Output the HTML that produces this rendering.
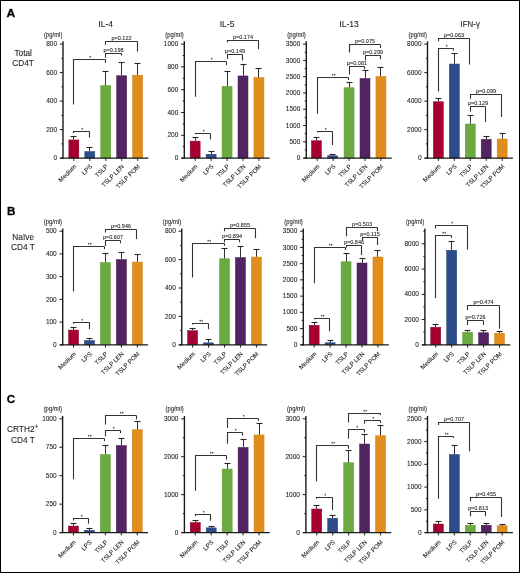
<!DOCTYPE html>
<html><head><meta charset="utf-8"><style>
html,body{margin:0;padding:0;background:#fff;}
body{width:520px;height:573px;overflow:hidden;position:relative;}
.frame{position:absolute;left:0;top:0;width:520px;height:573px;box-sizing:border-box;border:1px solid #000;border-left-width:1.2px;border-bottom-width:1.2px;}
svg{position:absolute;left:0;top:0;will-change:transform;}
text{font-family:"Liberation Sans",sans-serif;fill:#222;stroke:#222;stroke-width:0.08px;}
</style></head><body>
<svg width="520" height="573" viewBox="0 0 520 573">
<g>
<rect x="68.85" y="139.95" width="10" height="18.15" fill="#A5002F" stroke="#8E0026" stroke-width="0.5"/>
<path d="M73.5 139.7V136.5" stroke="#303030" stroke-width="1" fill="none"/>
<path d="M70.5 136.5H76.5" stroke="#262626" stroke-width="1.1" fill="none"/>
<rect x="84.8" y="151.55" width="10" height="6.55" fill="#2C4C8A" stroke="#223E76" stroke-width="0.5"/>
<path d="M89.5 151.3V147.5" stroke="#303030" stroke-width="1" fill="none"/>
<path d="M86.5 147.5H92.5" stroke="#262626" stroke-width="1.1" fill="none"/>
<rect x="100.75" y="85.65" width="10" height="72.45" fill="#6AAA40" stroke="#5E9A37" stroke-width="0.5"/>
<path d="M105.5 85.4V71.5" stroke="#303030" stroke-width="1" fill="none"/>
<path d="M102.5 71.5H108.5" stroke="#262626" stroke-width="1.1" fill="none"/>
<rect x="116.7" y="75.75" width="10" height="82.35" fill="#532462" stroke="#43184F" stroke-width="0.5"/>
<path d="M121.5 75.5V62.5" stroke="#303030" stroke-width="1" fill="none"/>
<path d="M118.5 62.5H124.5" stroke="#262626" stroke-width="1.1" fill="none"/>
<rect x="132.65" y="75.25" width="10" height="82.85" fill="#E08D1B" stroke="#CF7F12" stroke-width="0.5"/>
<path d="M137.5 75V63.5" stroke="#303030" stroke-width="1" fill="none"/>
<path d="M134.5 63.5H140.5" stroke="#262626" stroke-width="1.1" fill="none"/>
<path d="M63 41.3V158.7" stroke="#1a1a1a" stroke-width="1.4" fill="none"/>
<path d="M60.2 158.1H148.4" stroke="#1a1a1a" stroke-width="1.3" fill="none"/>
<path d="M73.85 158.1V160.9" stroke="#1a1a1a" stroke-width="1" fill="none"/>
<path d="M89.8 158.1V160.9" stroke="#1a1a1a" stroke-width="1" fill="none"/>
<path d="M105.75 158.1V160.9" stroke="#1a1a1a" stroke-width="1" fill="none"/>
<path d="M121.7 158.1V160.9" stroke="#1a1a1a" stroke-width="1" fill="none"/>
<path d="M137.65 158.1V160.9" stroke="#1a1a1a" stroke-width="1" fill="none"/>
<path d="M59.8 158.1H63" stroke="#1a1a1a" stroke-width="1" fill="none"/>
<text transform="translate(57 160.25) scale(1 1.080)" font-size="6.5" text-anchor="end">0</text>
<path d="M61.4 143.85H63" stroke="#1a1a1a" stroke-width="1" fill="none"/>
<path d="M59.8 129.6H63" stroke="#1a1a1a" stroke-width="1" fill="none"/>
<text transform="translate(57 131.75) scale(1 1.080)" font-size="6.5" text-anchor="end">200</text>
<path d="M61.4 115.35H63" stroke="#1a1a1a" stroke-width="1" fill="none"/>
<path d="M59.8 101.1H63" stroke="#1a1a1a" stroke-width="1" fill="none"/>
<text transform="translate(57 103.25) scale(1 1.080)" font-size="6.5" text-anchor="end">400</text>
<path d="M61.4 86.85H63" stroke="#1a1a1a" stroke-width="1" fill="none"/>
<path d="M59.8 72.6H63" stroke="#1a1a1a" stroke-width="1" fill="none"/>
<text transform="translate(57 74.75) scale(1 1.080)" font-size="6.5" text-anchor="end">600</text>
<path d="M61.4 58.35H63" stroke="#1a1a1a" stroke-width="1" fill="none"/>
<path d="M59.8 44.1H63" stroke="#1a1a1a" stroke-width="1" fill="none"/>
<text transform="translate(57 46.25) scale(1 1.080)" font-size="6.5" text-anchor="end">800</text>
<text transform="translate(76.65 166.9) rotate(-45)" font-size="6.2" text-anchor="end">Medium</text>
<text transform="translate(92.6 166.9) rotate(-45)" font-size="6.2" text-anchor="end">LPS</text>
<text transform="translate(108.55 166.9) rotate(-45)" font-size="6.2" text-anchor="end">TSLP</text>
<text transform="translate(124.5 166.9) rotate(-45)" font-size="6.2" text-anchor="end">TSLP LEN</text>
<text transform="translate(140.45 166.9) rotate(-45)" font-size="6.2" text-anchor="end">TSLP POM</text>
<path d="M73.5 133V131.5H89.5" stroke="#333333" stroke-width="1.1" fill="none"/>
<path d="M89.5 131.5V137.5" stroke="#333333" stroke-width="1.1" fill="none"/>
<rect x="81.55" y="127.9" width="1.3" height="1.6" fill="#4a4a4a"/>
<path d="M73.5 104.6V59.5H105.5" stroke="#333333" stroke-width="1.1" fill="none"/>
<path d="M105.5 59.5V62.9" stroke="#333333" stroke-width="1.1" fill="none"/>
<rect x="89.55" y="55.9" width="1.3" height="1.6" fill="#4a4a4a"/>
<path d="M105.5 57.7V53.5H121.5" stroke="#333333" stroke-width="1.1" fill="none"/>
<path d="M121.5 53.5V55.6" stroke="#333333" stroke-width="1.1" fill="none"/>
<text transform="translate(113.5 51.9)" font-size="5.5" text-anchor="middle">p=0.198</text>
<path d="M105.5 44.7V41.5H137.5" stroke="#333333" stroke-width="1.1" fill="none"/>
<path d="M137.5 41.5V51.6" stroke="#333333" stroke-width="1.1" fill="none"/>
<text transform="translate(121.5 39.9)" font-size="5.5" text-anchor="middle">p=0.122</text>
<text transform="translate(53.2 36.7) scale(1 1.200)" font-size="5.9" text-anchor="middle">(pg/ml)</text>
<text transform="translate(105.75 26.9)" font-size="8.6" text-anchor="middle">IL-4</text>
</g>
<g>
<rect x="190.15" y="141.15" width="10" height="16.95" fill="#A5002F" stroke="#8E0026" stroke-width="0.5"/>
<path d="M195.5 140.9V137.5" stroke="#303030" stroke-width="1" fill="none"/>
<path d="M192.5 137.5H198.5" stroke="#262626" stroke-width="1.1" fill="none"/>
<rect x="206.1" y="154.25" width="10" height="3.85" fill="#2C4C8A" stroke="#223E76" stroke-width="0.5"/>
<path d="M211.5 154V151.5" stroke="#303030" stroke-width="1" fill="none"/>
<path d="M208.5 151.5H214.5" stroke="#262626" stroke-width="1.1" fill="none"/>
<rect x="222.05" y="86.35" width="10" height="71.75" fill="#6AAA40" stroke="#5E9A37" stroke-width="0.5"/>
<path d="M227.5 86.1V71.5" stroke="#303030" stroke-width="1" fill="none"/>
<path d="M224.5 71.5H230.5" stroke="#262626" stroke-width="1.1" fill="none"/>
<rect x="238" y="75.95" width="10" height="82.15" fill="#532462" stroke="#43184F" stroke-width="0.5"/>
<path d="M243.5 75.7V64.5" stroke="#303030" stroke-width="1" fill="none"/>
<path d="M240.5 64.5H246.5" stroke="#262626" stroke-width="1.1" fill="none"/>
<rect x="253.95" y="77.55" width="10" height="80.55" fill="#E08D1B" stroke="#CF7F12" stroke-width="0.5"/>
<path d="M258.5 77.3V68.5" stroke="#303030" stroke-width="1" fill="none"/>
<path d="M255.5 68.5H261.5" stroke="#262626" stroke-width="1.1" fill="none"/>
<path d="M184.3 41.3V158.7" stroke="#1a1a1a" stroke-width="1.4" fill="none"/>
<path d="M181.5 158.1H269.7" stroke="#1a1a1a" stroke-width="1.3" fill="none"/>
<path d="M195.15 158.1V160.9" stroke="#1a1a1a" stroke-width="1" fill="none"/>
<path d="M211.1 158.1V160.9" stroke="#1a1a1a" stroke-width="1" fill="none"/>
<path d="M227.05 158.1V160.9" stroke="#1a1a1a" stroke-width="1" fill="none"/>
<path d="M243 158.1V160.9" stroke="#1a1a1a" stroke-width="1" fill="none"/>
<path d="M258.95 158.1V160.9" stroke="#1a1a1a" stroke-width="1" fill="none"/>
<path d="M181.1 158.1H184.3" stroke="#1a1a1a" stroke-width="1" fill="none"/>
<text transform="translate(178.3 160.25) scale(1 1.080)" font-size="6.5" text-anchor="end">0</text>
<path d="M182.7 146.7H184.3" stroke="#1a1a1a" stroke-width="1" fill="none"/>
<path d="M181.1 135.3H184.3" stroke="#1a1a1a" stroke-width="1" fill="none"/>
<text transform="translate(178.3 137.45) scale(1 1.080)" font-size="6.5" text-anchor="end">200</text>
<path d="M182.7 123.9H184.3" stroke="#1a1a1a" stroke-width="1" fill="none"/>
<path d="M181.1 112.5H184.3" stroke="#1a1a1a" stroke-width="1" fill="none"/>
<text transform="translate(178.3 114.65) scale(1 1.080)" font-size="6.5" text-anchor="end">400</text>
<path d="M182.7 101.1H184.3" stroke="#1a1a1a" stroke-width="1" fill="none"/>
<path d="M181.1 89.7H184.3" stroke="#1a1a1a" stroke-width="1" fill="none"/>
<text transform="translate(178.3 91.85) scale(1 1.080)" font-size="6.5" text-anchor="end">600</text>
<path d="M182.7 78.3H184.3" stroke="#1a1a1a" stroke-width="1" fill="none"/>
<path d="M181.1 66.9H184.3" stroke="#1a1a1a" stroke-width="1" fill="none"/>
<text transform="translate(178.3 69.05) scale(1 1.080)" font-size="6.5" text-anchor="end">800</text>
<path d="M182.7 55.5H184.3" stroke="#1a1a1a" stroke-width="1" fill="none"/>
<path d="M181.1 44.1H184.3" stroke="#1a1a1a" stroke-width="1" fill="none"/>
<text transform="translate(178.3 46.25) scale(1 1.080)" font-size="6.5" text-anchor="end">1000</text>
<text transform="translate(197.95 166.9) rotate(-45)" font-size="6.2" text-anchor="end">Medium</text>
<text transform="translate(213.9 166.9) rotate(-45)" font-size="6.2" text-anchor="end">LPS</text>
<text transform="translate(229.85 166.9) rotate(-45)" font-size="6.2" text-anchor="end">TSLP</text>
<text transform="translate(245.8 166.9) rotate(-45)" font-size="6.2" text-anchor="end">TSLP LEN</text>
<text transform="translate(261.75 166.9) rotate(-45)" font-size="6.2" text-anchor="end">TSLP POM</text>
<path d="M195.5 134.3V133.5H210.5" stroke="#333333" stroke-width="1.1" fill="none"/>
<path d="M210.5 133.5V139.4" stroke="#333333" stroke-width="1.1" fill="none"/>
<rect x="203.05" y="129.9" width="1.3" height="1.6" fill="#4a4a4a"/>
<path d="M195.5 96.7V61.5H226.5" stroke="#333333" stroke-width="1.1" fill="none"/>
<path d="M226.5 61.5V65.2" stroke="#333333" stroke-width="1.1" fill="none"/>
<rect x="211.05" y="57.9" width="1.3" height="1.6" fill="#4a4a4a"/>
<path d="M227.5 59.1V54.5H242.5" stroke="#333333" stroke-width="1.1" fill="none"/>
<path d="M242.5 54.5V60.5" stroke="#333333" stroke-width="1.1" fill="none"/>
<text transform="translate(235 52.9)" font-size="5.5" text-anchor="middle">p=0.149</text>
<path d="M227.5 42.3V40.5H258.5" stroke="#333333" stroke-width="1.1" fill="none"/>
<path d="M258.5 40.5V49.2" stroke="#333333" stroke-width="1.1" fill="none"/>
<text transform="translate(243 38.9)" font-size="5.5" text-anchor="middle">p=0.174</text>
<text transform="translate(174.5 36.7) scale(1 1.200)" font-size="5.9" text-anchor="middle">(pg/ml)</text>
<text transform="translate(227.05 26.9)" font-size="8.6" text-anchor="middle">IL-5</text>
</g>
<g>
<rect x="311.45" y="140.75" width="10" height="17.35" fill="#A5002F" stroke="#8E0026" stroke-width="0.5"/>
<path d="M316.5 140.5V137.5" stroke="#303030" stroke-width="1" fill="none"/>
<path d="M313.5 137.5H319.5" stroke="#262626" stroke-width="1.1" fill="none"/>
<rect x="327.6" y="155.75" width="10" height="2.35" fill="#2C4C8A" stroke="#223E76" stroke-width="0.5"/>
<path d="M332.5 155.5V154.5" stroke="#303030" stroke-width="1" fill="none"/>
<path d="M329.5 154.5H335.5" stroke="#262626" stroke-width="1.1" fill="none"/>
<rect x="344.05" y="87.75" width="10" height="70.35" fill="#6AAA40" stroke="#5E9A37" stroke-width="0.5"/>
<path d="M349.5 87.5V82.5" stroke="#303030" stroke-width="1" fill="none"/>
<path d="M346.5 82.5H352.5" stroke="#262626" stroke-width="1.1" fill="none"/>
<rect x="360" y="78.5" width="10" height="79.6" fill="#532462" stroke="#43184F" stroke-width="0.5"/>
<path d="M365.5 78.25V70.5" stroke="#303030" stroke-width="1" fill="none"/>
<path d="M362.5 70.5H368.5" stroke="#262626" stroke-width="1.1" fill="none"/>
<rect x="375.95" y="76.5" width="10" height="81.6" fill="#E08D1B" stroke="#CF7F12" stroke-width="0.5"/>
<path d="M380.5 76.25V67.5" stroke="#303030" stroke-width="1" fill="none"/>
<path d="M377.5 67.5H383.5" stroke="#262626" stroke-width="1.1" fill="none"/>
<path d="M306.3 41.3V158.7" stroke="#1a1a1a" stroke-width="1.4" fill="none"/>
<path d="M303.5 158.1H391.7" stroke="#1a1a1a" stroke-width="1.3" fill="none"/>
<path d="M317.15 158.1V160.9" stroke="#1a1a1a" stroke-width="1" fill="none"/>
<path d="M333.1 158.1V160.9" stroke="#1a1a1a" stroke-width="1" fill="none"/>
<path d="M349.05 158.1V160.9" stroke="#1a1a1a" stroke-width="1" fill="none"/>
<path d="M365 158.1V160.9" stroke="#1a1a1a" stroke-width="1" fill="none"/>
<path d="M380.95 158.1V160.9" stroke="#1a1a1a" stroke-width="1" fill="none"/>
<path d="M303.1 158.1H306.3" stroke="#1a1a1a" stroke-width="1" fill="none"/>
<text transform="translate(300.3 160.25) scale(1 1.080)" font-size="6.5" text-anchor="end">0</text>
<path d="M304.7 149.96H306.3" stroke="#1a1a1a" stroke-width="1" fill="none"/>
<path d="M303.1 141.81H306.3" stroke="#1a1a1a" stroke-width="1" fill="none"/>
<text transform="translate(300.3 143.96) scale(1 1.080)" font-size="6.5" text-anchor="end">500</text>
<path d="M304.7 133.67H306.3" stroke="#1a1a1a" stroke-width="1" fill="none"/>
<path d="M303.1 125.53H306.3" stroke="#1a1a1a" stroke-width="1" fill="none"/>
<text transform="translate(300.3 127.68) scale(1 1.080)" font-size="6.5" text-anchor="end">1000</text>
<path d="M304.7 117.39H306.3" stroke="#1a1a1a" stroke-width="1" fill="none"/>
<path d="M303.1 109.24H306.3" stroke="#1a1a1a" stroke-width="1" fill="none"/>
<text transform="translate(300.3 111.39) scale(1 1.080)" font-size="6.5" text-anchor="end">1500</text>
<path d="M304.7 101.1H306.3" stroke="#1a1a1a" stroke-width="1" fill="none"/>
<path d="M303.1 92.96H306.3" stroke="#1a1a1a" stroke-width="1" fill="none"/>
<text transform="translate(300.3 95.11) scale(1 1.080)" font-size="6.5" text-anchor="end">2000</text>
<path d="M304.7 84.81H306.3" stroke="#1a1a1a" stroke-width="1" fill="none"/>
<path d="M303.1 76.67H306.3" stroke="#1a1a1a" stroke-width="1" fill="none"/>
<text transform="translate(300.3 78.82) scale(1 1.080)" font-size="6.5" text-anchor="end">2500</text>
<path d="M304.7 68.53H306.3" stroke="#1a1a1a" stroke-width="1" fill="none"/>
<path d="M303.1 60.39H306.3" stroke="#1a1a1a" stroke-width="1" fill="none"/>
<text transform="translate(300.3 62.54) scale(1 1.080)" font-size="6.5" text-anchor="end">3000</text>
<path d="M304.7 52.24H306.3" stroke="#1a1a1a" stroke-width="1" fill="none"/>
<path d="M303.1 44.1H306.3" stroke="#1a1a1a" stroke-width="1" fill="none"/>
<text transform="translate(300.3 46.25) scale(1 1.080)" font-size="6.5" text-anchor="end">3500</text>
<text transform="translate(319.95 166.9) rotate(-45)" font-size="6.2" text-anchor="end">Medium</text>
<text transform="translate(335.9 166.9) rotate(-45)" font-size="6.2" text-anchor="end">LPS</text>
<text transform="translate(351.85 166.9) rotate(-45)" font-size="6.2" text-anchor="end">TSLP</text>
<text transform="translate(367.8 166.9) rotate(-45)" font-size="6.2" text-anchor="end">TSLP LEN</text>
<text transform="translate(383.75 166.9) rotate(-45)" font-size="6.2" text-anchor="end">TSLP POM</text>
<path d="M317.5 132.5V131.5H332.5" stroke="#333333" stroke-width="1.1" fill="none"/>
<path d="M332.5 131.5V145" stroke="#333333" stroke-width="1.1" fill="none"/>
<rect x="325.05" y="127.9" width="1.3" height="1.6" fill="#4a4a4a"/>
<path d="M317.5 113.75V77.5H348.5" stroke="#333333" stroke-width="1.1" fill="none"/>
<path d="M348.5 77.5V80" stroke="#333333" stroke-width="1.1" fill="none"/>
<rect x="332.05" y="73.9" width="1.3" height="1.6" fill="#4a4a4a"/>
<rect x="334.05" y="73.9" width="1.3" height="1.6" fill="#4a4a4a"/>
<path d="M349.5 74.5V66.5H364.5" stroke="#333333" stroke-width="1.1" fill="none"/>
<path d="M364.5 66.5V69.25" stroke="#333333" stroke-width="1.1" fill="none"/>
<text transform="translate(357 64.9)" font-size="5.5" text-anchor="middle">p=0.081</text>
<path d="M365.5 60.5V55.5H380.5" stroke="#333333" stroke-width="1.1" fill="none"/>
<path d="M380.5 55.5V59.25" stroke="#333333" stroke-width="1.1" fill="none"/>
<text transform="translate(373 53.9)" font-size="5.5" text-anchor="middle">p=0.299</text>
<path d="M349.5 52.5V44.5H380.5" stroke="#333333" stroke-width="1.1" fill="none"/>
<path d="M380.5 44.5V48" stroke="#333333" stroke-width="1.1" fill="none"/>
<text transform="translate(365 42.9)" font-size="5.5" text-anchor="middle">p=0.075</text>
<text transform="translate(296.5 36.7) scale(1 1.200)" font-size="5.9" text-anchor="middle">(pg/ml)</text>
<text transform="translate(349.05 26.9)" font-size="8.6" text-anchor="middle">IL-13</text>
</g>
<g>
<rect x="433.35" y="101.75" width="10" height="56.35" fill="#A5002F" stroke="#8E0026" stroke-width="0.5"/>
<path d="M438.5 101.5V98.5" stroke="#303030" stroke-width="1" fill="none"/>
<path d="M435.5 98.5H441.5" stroke="#262626" stroke-width="1.1" fill="none"/>
<rect x="449.3" y="64" width="10" height="94.1" fill="#2C4C8A" stroke="#223E76" stroke-width="0.5"/>
<path d="M454.5 63.75V53.5" stroke="#303030" stroke-width="1" fill="none"/>
<path d="M451.5 53.5H457.5" stroke="#262626" stroke-width="1.1" fill="none"/>
<rect x="465.25" y="124" width="10" height="34.1" fill="#6AAA40" stroke="#5E9A37" stroke-width="0.5"/>
<path d="M470.5 123.75V115.5" stroke="#303030" stroke-width="1" fill="none"/>
<path d="M467.5 115.5H473.5" stroke="#262626" stroke-width="1.1" fill="none"/>
<rect x="481.2" y="139.35" width="10" height="18.75" fill="#532462" stroke="#43184F" stroke-width="0.5"/>
<path d="M486.5 139.1V136.5" stroke="#303030" stroke-width="1" fill="none"/>
<path d="M483.5 136.5H489.5" stroke="#262626" stroke-width="1.1" fill="none"/>
<rect x="497.15" y="139" width="10" height="19.1" fill="#E08D1B" stroke="#CF7F12" stroke-width="0.5"/>
<path d="M502.5 138.75V133.5" stroke="#303030" stroke-width="1" fill="none"/>
<path d="M499.5 133.5H505.5" stroke="#262626" stroke-width="1.1" fill="none"/>
<path d="M427.5 41.3V158.7" stroke="#1a1a1a" stroke-width="1.4" fill="none"/>
<path d="M424.7 158.1H512.9" stroke="#1a1a1a" stroke-width="1.3" fill="none"/>
<path d="M438.35 158.1V160.9" stroke="#1a1a1a" stroke-width="1" fill="none"/>
<path d="M454.3 158.1V160.9" stroke="#1a1a1a" stroke-width="1" fill="none"/>
<path d="M470.25 158.1V160.9" stroke="#1a1a1a" stroke-width="1" fill="none"/>
<path d="M486.2 158.1V160.9" stroke="#1a1a1a" stroke-width="1" fill="none"/>
<path d="M502.15 158.1V160.9" stroke="#1a1a1a" stroke-width="1" fill="none"/>
<path d="M424.3 158.1H427.5" stroke="#1a1a1a" stroke-width="1" fill="none"/>
<text transform="translate(421.5 160.25) scale(1 1.080)" font-size="6.5" text-anchor="end">0</text>
<path d="M425.9 143.85H427.5" stroke="#1a1a1a" stroke-width="1" fill="none"/>
<path d="M424.3 129.6H427.5" stroke="#1a1a1a" stroke-width="1" fill="none"/>
<text transform="translate(421.5 131.75) scale(1 1.080)" font-size="6.5" text-anchor="end">2000</text>
<path d="M425.9 115.35H427.5" stroke="#1a1a1a" stroke-width="1" fill="none"/>
<path d="M424.3 101.1H427.5" stroke="#1a1a1a" stroke-width="1" fill="none"/>
<text transform="translate(421.5 103.25) scale(1 1.080)" font-size="6.5" text-anchor="end">4000</text>
<path d="M425.9 86.85H427.5" stroke="#1a1a1a" stroke-width="1" fill="none"/>
<path d="M424.3 72.6H427.5" stroke="#1a1a1a" stroke-width="1" fill="none"/>
<text transform="translate(421.5 74.75) scale(1 1.080)" font-size="6.5" text-anchor="end">6000</text>
<path d="M425.9 58.35H427.5" stroke="#1a1a1a" stroke-width="1" fill="none"/>
<path d="M424.3 44.1H427.5" stroke="#1a1a1a" stroke-width="1" fill="none"/>
<text transform="translate(421.5 46.25) scale(1 1.080)" font-size="6.5" text-anchor="end">8000</text>
<text transform="translate(441.15 166.9) rotate(-45)" font-size="6.2" text-anchor="end">Medium</text>
<text transform="translate(457.1 166.9) rotate(-45)" font-size="6.2" text-anchor="end">LPS</text>
<text transform="translate(473.05 166.9) rotate(-45)" font-size="6.2" text-anchor="end">TSLP</text>
<text transform="translate(489 166.9) rotate(-45)" font-size="6.2" text-anchor="end">TSLP LEN</text>
<text transform="translate(504.95 166.9) rotate(-45)" font-size="6.2" text-anchor="end">TSLP POM</text>
<path d="M438.5 91.5V48.5H453.5" stroke="#333333" stroke-width="1.1" fill="none"/>
<path d="M453.5 48.5V50.6" stroke="#333333" stroke-width="1.1" fill="none"/>
<rect x="446.05" y="44.9" width="1.3" height="1.6" fill="#4a4a4a"/>
<path d="M438.5 41.2V38.5H469.5" stroke="#333333" stroke-width="1.1" fill="none"/>
<path d="M469.5 38.5V64.5" stroke="#333333" stroke-width="1.1" fill="none"/>
<text transform="translate(454 36.9)" font-size="5.5" text-anchor="middle">p=0.063</text>
<path d="M470.5 111.75V106.5H485.5" stroke="#333333" stroke-width="1.1" fill="none"/>
<path d="M485.5 106.5V122" stroke="#333333" stroke-width="1.1" fill="none"/>
<text transform="translate(478 104.9)" font-size="5.5" text-anchor="middle">p=0.129</text>
<path d="M470.5 98.75V94.5H501.5" stroke="#333333" stroke-width="1.1" fill="none"/>
<path d="M501.5 94.5V117" stroke="#333333" stroke-width="1.1" fill="none"/>
<text transform="translate(486 92.9)" font-size="5.5" text-anchor="middle">p=0.099</text>
<text transform="translate(417.7 36.7) scale(1 1.200)" font-size="5.9" text-anchor="middle">(pg/ml)</text>
<text transform="translate(470.25 26.9) scale(0.92 1.000)" font-size="8.6" text-anchor="middle">IFN-γ</text>
</g>
<g>
<rect x="68.55" y="330.05" width="10" height="14.75" fill="#A5002F" stroke="#8E0026" stroke-width="0.5"/>
<path d="M73.5 329.8V327.5" stroke="#303030" stroke-width="1" fill="none"/>
<path d="M70.5 327.5H76.5" stroke="#262626" stroke-width="1.1" fill="none"/>
<rect x="84.5" y="340.55" width="10" height="4.25" fill="#2C4C8A" stroke="#223E76" stroke-width="0.5"/>
<path d="M89.5 340.3V338.5" stroke="#303030" stroke-width="1" fill="none"/>
<path d="M86.5 338.5H92.5" stroke="#262626" stroke-width="1.1" fill="none"/>
<rect x="100.45" y="262.55" width="10" height="82.25" fill="#6AAA40" stroke="#5E9A37" stroke-width="0.5"/>
<path d="M105.5 262.3V253.5" stroke="#303030" stroke-width="1" fill="none"/>
<path d="M102.5 253.5H108.5" stroke="#262626" stroke-width="1.1" fill="none"/>
<rect x="116.4" y="259.55" width="10" height="85.25" fill="#532462" stroke="#43184F" stroke-width="0.5"/>
<path d="M121.5 259.3V252.5" stroke="#303030" stroke-width="1" fill="none"/>
<path d="M118.5 252.5H124.5" stroke="#262626" stroke-width="1.1" fill="none"/>
<rect x="132.35" y="262.05" width="10" height="82.75" fill="#E08D1B" stroke="#CF7F12" stroke-width="0.5"/>
<path d="M137.5 261.8V254.5" stroke="#303030" stroke-width="1" fill="none"/>
<path d="M134.5 254.5H140.5" stroke="#262626" stroke-width="1.1" fill="none"/>
<path d="M62.7 228.4V345.4" stroke="#1a1a1a" stroke-width="1.4" fill="none"/>
<path d="M59.9 344.8H148.1" stroke="#1a1a1a" stroke-width="1.3" fill="none"/>
<path d="M73.55 344.8V347.6" stroke="#1a1a1a" stroke-width="1" fill="none"/>
<path d="M89.5 344.8V347.6" stroke="#1a1a1a" stroke-width="1" fill="none"/>
<path d="M105.45 344.8V347.6" stroke="#1a1a1a" stroke-width="1" fill="none"/>
<path d="M121.4 344.8V347.6" stroke="#1a1a1a" stroke-width="1" fill="none"/>
<path d="M137.35 344.8V347.6" stroke="#1a1a1a" stroke-width="1" fill="none"/>
<path d="M59.5 344.8H62.7" stroke="#1a1a1a" stroke-width="1" fill="none"/>
<text transform="translate(56.7 346.95) scale(1 1.080)" font-size="6.5" text-anchor="end">0</text>
<path d="M59.5 322.08H62.7" stroke="#1a1a1a" stroke-width="1" fill="none"/>
<text transform="translate(56.7 324.23) scale(1 1.080)" font-size="6.5" text-anchor="end">100</text>
<path d="M59.5 299.36H62.7" stroke="#1a1a1a" stroke-width="1" fill="none"/>
<text transform="translate(56.7 301.51) scale(1 1.080)" font-size="6.5" text-anchor="end">200</text>
<path d="M59.5 276.64H62.7" stroke="#1a1a1a" stroke-width="1" fill="none"/>
<text transform="translate(56.7 278.79) scale(1 1.080)" font-size="6.5" text-anchor="end">300</text>
<path d="M59.5 253.92H62.7" stroke="#1a1a1a" stroke-width="1" fill="none"/>
<text transform="translate(56.7 256.07) scale(1 1.080)" font-size="6.5" text-anchor="end">400</text>
<path d="M59.5 231.2H62.7" stroke="#1a1a1a" stroke-width="1" fill="none"/>
<text transform="translate(56.7 233.35) scale(1 1.080)" font-size="6.5" text-anchor="end">500</text>
<text transform="translate(76.35 354.3) rotate(-45)" font-size="6.2" text-anchor="end">Medium</text>
<text transform="translate(92.3 354.3) rotate(-45)" font-size="6.2" text-anchor="end">LPS</text>
<text transform="translate(108.25 354.3) rotate(-45)" font-size="6.2" text-anchor="end">TSLP</text>
<text transform="translate(124.2 354.3) rotate(-45)" font-size="6.2" text-anchor="end">TSLP LEN</text>
<text transform="translate(140.15 354.3) rotate(-45)" font-size="6.2" text-anchor="end">TSLP POM</text>
<path d="M73.5 323.8V322.5H89.5" stroke="#333333" stroke-width="1.1" fill="none"/>
<path d="M89.5 322.5V329.1" stroke="#333333" stroke-width="1.1" fill="none"/>
<rect x="81.55" y="318.9" width="1.3" height="1.6" fill="#4a4a4a"/>
<path d="M73.5 291.4V246.5H104.5" stroke="#333333" stroke-width="1.1" fill="none"/>
<path d="M104.5 246.5V249.1" stroke="#333333" stroke-width="1.1" fill="none"/>
<rect x="88.05" y="242.9" width="1.3" height="1.6" fill="#4a4a4a"/>
<rect x="90.05" y="242.9" width="1.3" height="1.6" fill="#4a4a4a"/>
<path d="M105.5 246V240.5H120.5" stroke="#333333" stroke-width="1.1" fill="none"/>
<path d="M120.5 240.5V243.2" stroke="#333333" stroke-width="1.1" fill="none"/>
<text transform="translate(113 238.9)" font-size="5.5" text-anchor="middle">p=0.607</text>
<path d="M105.5 232.6V229.5H136.5" stroke="#333333" stroke-width="1.1" fill="none"/>
<path d="M136.5 229.5V239" stroke="#333333" stroke-width="1.1" fill="none"/>
<text transform="translate(121 227.9)" font-size="5.5" text-anchor="middle">p=0.946</text>
<text transform="translate(52.9 223.8) scale(1 1.200)" font-size="5.9" text-anchor="middle">(pg/ml)</text>
</g>
<g>
<rect x="187.6" y="330.65" width="10" height="14.15" fill="#A5002F" stroke="#8E0026" stroke-width="0.5"/>
<path d="M192.5 330.4V328.5" stroke="#303030" stroke-width="1" fill="none"/>
<path d="M189.5 328.5H195.5" stroke="#262626" stroke-width="1.1" fill="none"/>
<rect x="203.55" y="342.85" width="10" height="1.95" fill="#2C4C8A" stroke="#223E76" stroke-width="0.5"/>
<path d="M208.5 342.6V339.5" stroke="#303030" stroke-width="1" fill="none"/>
<path d="M205.5 339.5H211.5" stroke="#262626" stroke-width="1.1" fill="none"/>
<rect x="219.5" y="258.75" width="10" height="86.05" fill="#6AAA40" stroke="#5E9A37" stroke-width="0.5"/>
<path d="M224.5 258.5V248.5" stroke="#303030" stroke-width="1" fill="none"/>
<path d="M221.5 248.5H227.5" stroke="#262626" stroke-width="1.1" fill="none"/>
<rect x="235.45" y="257.55" width="10" height="87.25" fill="#532462" stroke="#43184F" stroke-width="0.5"/>
<path d="M240.5 257.3V246.5" stroke="#303030" stroke-width="1" fill="none"/>
<path d="M237.5 246.5H243.5" stroke="#262626" stroke-width="1.1" fill="none"/>
<rect x="251.4" y="257.05" width="10" height="87.75" fill="#E08D1B" stroke="#CF7F12" stroke-width="0.5"/>
<path d="M256.5 256.8V249.5" stroke="#303030" stroke-width="1" fill="none"/>
<path d="M253.5 249.5H259.5" stroke="#262626" stroke-width="1.1" fill="none"/>
<path d="M181.75 228.4V345.4" stroke="#1a1a1a" stroke-width="1.4" fill="none"/>
<path d="M178.95 344.8H267.15" stroke="#1a1a1a" stroke-width="1.3" fill="none"/>
<path d="M192.6 344.8V347.6" stroke="#1a1a1a" stroke-width="1" fill="none"/>
<path d="M208.55 344.8V347.6" stroke="#1a1a1a" stroke-width="1" fill="none"/>
<path d="M224.5 344.8V347.6" stroke="#1a1a1a" stroke-width="1" fill="none"/>
<path d="M240.45 344.8V347.6" stroke="#1a1a1a" stroke-width="1" fill="none"/>
<path d="M256.4 344.8V347.6" stroke="#1a1a1a" stroke-width="1" fill="none"/>
<path d="M178.55 344.8H181.75" stroke="#1a1a1a" stroke-width="1" fill="none"/>
<text transform="translate(175.75 346.95) scale(1 1.080)" font-size="6.5" text-anchor="end">0</text>
<path d="M180.15 330.6H181.75" stroke="#1a1a1a" stroke-width="1" fill="none"/>
<path d="M178.55 316.4H181.75" stroke="#1a1a1a" stroke-width="1" fill="none"/>
<text transform="translate(175.75 318.55) scale(1 1.080)" font-size="6.5" text-anchor="end">200</text>
<path d="M180.15 302.2H181.75" stroke="#1a1a1a" stroke-width="1" fill="none"/>
<path d="M178.55 288H181.75" stroke="#1a1a1a" stroke-width="1" fill="none"/>
<text transform="translate(175.75 290.15) scale(1 1.080)" font-size="6.5" text-anchor="end">400</text>
<path d="M180.15 273.8H181.75" stroke="#1a1a1a" stroke-width="1" fill="none"/>
<path d="M178.55 259.6H181.75" stroke="#1a1a1a" stroke-width="1" fill="none"/>
<text transform="translate(175.75 261.75) scale(1 1.080)" font-size="6.5" text-anchor="end">600</text>
<path d="M180.15 245.4H181.75" stroke="#1a1a1a" stroke-width="1" fill="none"/>
<path d="M178.55 231.2H181.75" stroke="#1a1a1a" stroke-width="1" fill="none"/>
<text transform="translate(175.75 233.35) scale(1 1.080)" font-size="6.5" text-anchor="end">800</text>
<text transform="translate(195.4 354.3) rotate(-45)" font-size="6.2" text-anchor="end">Medium</text>
<text transform="translate(211.35 354.3) rotate(-45)" font-size="6.2" text-anchor="end">LPS</text>
<text transform="translate(227.3 354.3) rotate(-45)" font-size="6.2" text-anchor="end">TSLP</text>
<text transform="translate(243.25 354.3) rotate(-45)" font-size="6.2" text-anchor="end">TSLP LEN</text>
<text transform="translate(259.2 354.3) rotate(-45)" font-size="6.2" text-anchor="end">TSLP POM</text>
<path d="M192.5 324.6V323.5H208.5" stroke="#333333" stroke-width="1.1" fill="none"/>
<path d="M208.5 323.5V329.2" stroke="#333333" stroke-width="1.1" fill="none"/>
<rect x="199.55" y="319.9" width="1.3" height="1.6" fill="#4a4a4a"/>
<rect x="201.55" y="319.9" width="1.3" height="1.6" fill="#4a4a4a"/>
<path d="M192.5 277.6V243.5H224.5" stroke="#333333" stroke-width="1.1" fill="none"/>
<path d="M224.5 243.5V245.8" stroke="#333333" stroke-width="1.1" fill="none"/>
<rect x="207.55" y="239.9" width="1.3" height="1.6" fill="#4a4a4a"/>
<rect x="209.55" y="239.9" width="1.3" height="1.6" fill="#4a4a4a"/>
<path d="M224.5 242.3V239.5H239.5" stroke="#333333" stroke-width="1.1" fill="none"/>
<path d="M239.5 239.5V242.3" stroke="#333333" stroke-width="1.1" fill="none"/>
<text transform="translate(232 237.9)" font-size="5.5" text-anchor="middle">p=0.894</text>
<path d="M224.5 231.2V228.5H255.5" stroke="#333333" stroke-width="1.1" fill="none"/>
<path d="M255.5 228.5V238.2" stroke="#333333" stroke-width="1.1" fill="none"/>
<text transform="translate(240 226.9)" font-size="5.5" text-anchor="middle">p=0.855</text>
<text transform="translate(171.95 223.8) scale(1 1.200)" font-size="5.9" text-anchor="middle">(pg/ml)</text>
</g>
<g>
<rect x="309.15" y="325.25" width="10" height="19.55" fill="#A5002F" stroke="#8E0026" stroke-width="0.5"/>
<path d="M314.5 325V322.5" stroke="#303030" stroke-width="1" fill="none"/>
<path d="M311.5 322.5H317.5" stroke="#262626" stroke-width="1.1" fill="none"/>
<rect x="325.1" y="342.75" width="10" height="2.05" fill="#2C4C8A" stroke="#223E76" stroke-width="0.5"/>
<path d="M330.5 342.5V340.5" stroke="#303030" stroke-width="1" fill="none"/>
<path d="M327.5 340.5H333.5" stroke="#262626" stroke-width="1.1" fill="none"/>
<rect x="341.05" y="261.75" width="10" height="83.05" fill="#6AAA40" stroke="#5E9A37" stroke-width="0.5"/>
<path d="M346.5 261.5V253.5" stroke="#303030" stroke-width="1" fill="none"/>
<path d="M343.5 253.5H349.5" stroke="#262626" stroke-width="1.1" fill="none"/>
<rect x="357" y="263" width="10" height="81.8" fill="#532462" stroke="#43184F" stroke-width="0.5"/>
<path d="M362.5 262.75V258.5" stroke="#303030" stroke-width="1" fill="none"/>
<path d="M359.5 258.5H365.5" stroke="#262626" stroke-width="1.1" fill="none"/>
<rect x="372.95" y="257" width="10" height="87.8" fill="#E08D1B" stroke="#CF7F12" stroke-width="0.5"/>
<path d="M377.5 256.75V250.5" stroke="#303030" stroke-width="1" fill="none"/>
<path d="M374.5 250.5H380.5" stroke="#262626" stroke-width="1.1" fill="none"/>
<path d="M303.3 228.4V345.4" stroke="#1a1a1a" stroke-width="1.4" fill="none"/>
<path d="M300.5 344.8H388.7" stroke="#1a1a1a" stroke-width="1.3" fill="none"/>
<path d="M314.15 344.8V347.6" stroke="#1a1a1a" stroke-width="1" fill="none"/>
<path d="M330.1 344.8V347.6" stroke="#1a1a1a" stroke-width="1" fill="none"/>
<path d="M346.05 344.8V347.6" stroke="#1a1a1a" stroke-width="1" fill="none"/>
<path d="M362 344.8V347.6" stroke="#1a1a1a" stroke-width="1" fill="none"/>
<path d="M377.95 344.8V347.6" stroke="#1a1a1a" stroke-width="1" fill="none"/>
<path d="M300.1 344.8H303.3" stroke="#1a1a1a" stroke-width="1" fill="none"/>
<text transform="translate(297.3 346.95) scale(1 1.080)" font-size="6.5" text-anchor="end">0</text>
<path d="M301.7 336.69H303.3" stroke="#1a1a1a" stroke-width="1" fill="none"/>
<path d="M300.1 328.57H303.3" stroke="#1a1a1a" stroke-width="1" fill="none"/>
<text transform="translate(297.3 330.72) scale(1 1.080)" font-size="6.5" text-anchor="end">500</text>
<path d="M301.7 320.46H303.3" stroke="#1a1a1a" stroke-width="1" fill="none"/>
<path d="M300.1 312.34H303.3" stroke="#1a1a1a" stroke-width="1" fill="none"/>
<text transform="translate(297.3 314.49) scale(1 1.080)" font-size="6.5" text-anchor="end">1000</text>
<path d="M301.7 304.23H303.3" stroke="#1a1a1a" stroke-width="1" fill="none"/>
<path d="M300.1 296.11H303.3" stroke="#1a1a1a" stroke-width="1" fill="none"/>
<text transform="translate(297.3 298.26) scale(1 1.080)" font-size="6.5" text-anchor="end">1500</text>
<path d="M301.7 288H303.3" stroke="#1a1a1a" stroke-width="1" fill="none"/>
<path d="M300.1 279.89H303.3" stroke="#1a1a1a" stroke-width="1" fill="none"/>
<text transform="translate(297.3 282.04) scale(1 1.080)" font-size="6.5" text-anchor="end">2000</text>
<path d="M301.7 271.77H303.3" stroke="#1a1a1a" stroke-width="1" fill="none"/>
<path d="M300.1 263.66H303.3" stroke="#1a1a1a" stroke-width="1" fill="none"/>
<text transform="translate(297.3 265.81) scale(1 1.080)" font-size="6.5" text-anchor="end">2500</text>
<path d="M301.7 255.54H303.3" stroke="#1a1a1a" stroke-width="1" fill="none"/>
<path d="M300.1 247.43H303.3" stroke="#1a1a1a" stroke-width="1" fill="none"/>
<text transform="translate(297.3 249.58) scale(1 1.080)" font-size="6.5" text-anchor="end">3000</text>
<path d="M301.7 239.31H303.3" stroke="#1a1a1a" stroke-width="1" fill="none"/>
<path d="M300.1 231.2H303.3" stroke="#1a1a1a" stroke-width="1" fill="none"/>
<text transform="translate(297.3 233.35) scale(1 1.080)" font-size="6.5" text-anchor="end">3500</text>
<text transform="translate(316.95 354.3) rotate(-45)" font-size="6.2" text-anchor="end">Medium</text>
<text transform="translate(332.9 354.3) rotate(-45)" font-size="6.2" text-anchor="end">LPS</text>
<text transform="translate(348.85 354.3) rotate(-45)" font-size="6.2" text-anchor="end">TSLP</text>
<text transform="translate(364.8 354.3) rotate(-45)" font-size="6.2" text-anchor="end">TSLP LEN</text>
<text transform="translate(380.75 354.3) rotate(-45)" font-size="6.2" text-anchor="end">TSLP POM</text>
<path d="M314.5 319.25V318.5H329.5" stroke="#333333" stroke-width="1.1" fill="none"/>
<path d="M329.5 318.5V331.25" stroke="#333333" stroke-width="1.1" fill="none"/>
<rect x="321.05" y="314.9" width="1.3" height="1.6" fill="#4a4a4a"/>
<rect x="323.05" y="314.9" width="1.3" height="1.6" fill="#4a4a4a"/>
<path d="M314.5 283.25V247.5H345.5" stroke="#333333" stroke-width="1.1" fill="none"/>
<path d="M345.5 247.5V250" stroke="#333333" stroke-width="1.1" fill="none"/>
<rect x="329.05" y="243.9" width="1.3" height="1.6" fill="#4a4a4a"/>
<rect x="331.05" y="243.9" width="1.3" height="1.6" fill="#4a4a4a"/>
<path d="M346.5 247.5V245.5H361.5" stroke="#333333" stroke-width="1.1" fill="none"/>
<path d="M361.5 245.5V255" stroke="#333333" stroke-width="1.1" fill="none"/>
<text transform="translate(354 243.9)" font-size="5.5" text-anchor="middle">p=0.846</text>
<path d="M362.5 240.5V237.5H377.5" stroke="#333333" stroke-width="1.1" fill="none"/>
<path d="M377.5 237.5V245" stroke="#333333" stroke-width="1.1" fill="none"/>
<text transform="translate(370 235.9)" font-size="5.5" text-anchor="middle">p=0.115</text>
<path d="M346.5 236.25V227.5H377.5" stroke="#333333" stroke-width="1.1" fill="none"/>
<path d="M377.5 227.5V231.25" stroke="#333333" stroke-width="1.1" fill="none"/>
<text transform="translate(362 225.9)" font-size="5.5" text-anchor="middle">p=0.503</text>
<text transform="translate(293.5 223.8) scale(1 1.200)" font-size="5.9" text-anchor="middle">(pg/ml)</text>
</g>
<g>
<rect x="430.75" y="327.25" width="10" height="17.55" fill="#A5002F" stroke="#8E0026" stroke-width="0.5"/>
<path d="M435.5 327V324.5" stroke="#303030" stroke-width="1" fill="none"/>
<path d="M432.5 324.5H438.5" stroke="#262626" stroke-width="1.1" fill="none"/>
<rect x="446.7" y="250.25" width="10" height="94.55" fill="#2C4C8A" stroke="#223E76" stroke-width="0.5"/>
<path d="M451.5 250V241.5" stroke="#303030" stroke-width="1" fill="none"/>
<path d="M448.5 241.5H454.5" stroke="#262626" stroke-width="1.1" fill="none"/>
<rect x="462.65" y="332.25" width="10" height="12.55" fill="#6AAA40" stroke="#5E9A37" stroke-width="0.5"/>
<path d="M467.5 332V330.5" stroke="#303030" stroke-width="1" fill="none"/>
<path d="M464.5 330.5H470.5" stroke="#262626" stroke-width="1.1" fill="none"/>
<rect x="478.6" y="332.75" width="10" height="12.05" fill="#532462" stroke="#43184F" stroke-width="0.5"/>
<path d="M483.5 332.5V330.5" stroke="#303030" stroke-width="1" fill="none"/>
<path d="M480.5 330.5H486.5" stroke="#262626" stroke-width="1.1" fill="none"/>
<rect x="494.55" y="333.25" width="10" height="11.55" fill="#E08D1B" stroke="#CF7F12" stroke-width="0.5"/>
<path d="M499.5 333V331.5" stroke="#303030" stroke-width="1" fill="none"/>
<path d="M496.5 331.5H502.5" stroke="#262626" stroke-width="1.1" fill="none"/>
<path d="M424.9 228.4V345.4" stroke="#1a1a1a" stroke-width="1.4" fill="none"/>
<path d="M422.1 344.8H510.3" stroke="#1a1a1a" stroke-width="1.3" fill="none"/>
<path d="M435.75 344.8V347.6" stroke="#1a1a1a" stroke-width="1" fill="none"/>
<path d="M451.7 344.8V347.6" stroke="#1a1a1a" stroke-width="1" fill="none"/>
<path d="M467.65 344.8V347.6" stroke="#1a1a1a" stroke-width="1" fill="none"/>
<path d="M483.6 344.8V347.6" stroke="#1a1a1a" stroke-width="1" fill="none"/>
<path d="M499.55 344.8V347.6" stroke="#1a1a1a" stroke-width="1" fill="none"/>
<path d="M421.7 344.8H424.9" stroke="#1a1a1a" stroke-width="1" fill="none"/>
<text transform="translate(418.9 346.95) scale(1 1.080)" font-size="6.5" text-anchor="end">0</text>
<path d="M423.3 332.18H424.9" stroke="#1a1a1a" stroke-width="1" fill="none"/>
<path d="M421.7 319.56H424.9" stroke="#1a1a1a" stroke-width="1" fill="none"/>
<text transform="translate(418.9 321.71) scale(1 1.080)" font-size="6.5" text-anchor="end">2000</text>
<path d="M423.3 306.93H424.9" stroke="#1a1a1a" stroke-width="1" fill="none"/>
<path d="M421.7 294.31H424.9" stroke="#1a1a1a" stroke-width="1" fill="none"/>
<text transform="translate(418.9 296.46) scale(1 1.080)" font-size="6.5" text-anchor="end">4000</text>
<path d="M423.3 281.69H424.9" stroke="#1a1a1a" stroke-width="1" fill="none"/>
<path d="M421.7 269.07H424.9" stroke="#1a1a1a" stroke-width="1" fill="none"/>
<text transform="translate(418.9 271.22) scale(1 1.080)" font-size="6.5" text-anchor="end">6000</text>
<path d="M423.3 256.44H424.9" stroke="#1a1a1a" stroke-width="1" fill="none"/>
<path d="M421.7 243.82H424.9" stroke="#1a1a1a" stroke-width="1" fill="none"/>
<text transform="translate(418.9 245.97) scale(1 1.080)" font-size="6.5" text-anchor="end">8000</text>
<path d="M423.3 231.2H424.9" stroke="#1a1a1a" stroke-width="1" fill="none"/>
<text transform="translate(438.55 354.3) rotate(-45)" font-size="6.2" text-anchor="end">Medium</text>
<text transform="translate(454.5 354.3) rotate(-45)" font-size="6.2" text-anchor="end">LPS</text>
<text transform="translate(470.45 354.3) rotate(-45)" font-size="6.2" text-anchor="end">TSLP</text>
<text transform="translate(486.4 354.3) rotate(-45)" font-size="6.2" text-anchor="end">TSLP LEN</text>
<text transform="translate(502.35 354.3) rotate(-45)" font-size="6.2" text-anchor="end">TSLP POM</text>
<path d="M435.5 298.25V235.5H451.5" stroke="#333333" stroke-width="1.1" fill="none"/>
<path d="M451.5 235.5V238" stroke="#333333" stroke-width="1.1" fill="none"/>
<rect x="442.55" y="231.9" width="1.3" height="1.6" fill="#4a4a4a"/>
<rect x="444.55" y="231.9" width="1.3" height="1.6" fill="#4a4a4a"/>
<path d="M435.5 228.4V225.5H467.5" stroke="#333333" stroke-width="1.1" fill="none"/>
<path d="M467.5 225.5V249.5" stroke="#333333" stroke-width="1.1" fill="none"/>
<rect x="451.55" y="221.9" width="1.3" height="1.6" fill="#4a4a4a"/>
<path d="M467.5 325V320.5H483.5" stroke="#333333" stroke-width="1.1" fill="none"/>
<path d="M483.5 320.5V325" stroke="#333333" stroke-width="1.1" fill="none"/>
<text transform="translate(475.5 318.9)" font-size="5.5" text-anchor="middle">p=0.726</text>
<path d="M467.5 310V305.5H499.5" stroke="#333333" stroke-width="1.1" fill="none"/>
<path d="M499.5 305.5V328.75" stroke="#333333" stroke-width="1.1" fill="none"/>
<text transform="translate(483.5 303.9)" font-size="5.5" text-anchor="middle">p=0.474</text>
<text transform="translate(415.1 223.8) scale(1 1.200)" font-size="5.9" text-anchor="middle">(pg/ml)</text>
</g>
<g>
<rect x="68.45" y="526.05" width="10" height="6.55" fill="#A5002F" stroke="#8E0026" stroke-width="0.5"/>
<path d="M73.5 525.8V523.5" stroke="#303030" stroke-width="1" fill="none"/>
<path d="M70.5 523.5H76.5" stroke="#262626" stroke-width="1.1" fill="none"/>
<rect x="84.4" y="530.25" width="10" height="2.35" fill="#2C4C8A" stroke="#223E76" stroke-width="0.5"/>
<path d="M89.5 530V528.5" stroke="#303030" stroke-width="1" fill="none"/>
<path d="M86.5 528.5H92.5" stroke="#262626" stroke-width="1.1" fill="none"/>
<rect x="100.35" y="454.45" width="10" height="78.15" fill="#6AAA40" stroke="#5E9A37" stroke-width="0.5"/>
<path d="M105.5 454.2V445.5" stroke="#303030" stroke-width="1" fill="none"/>
<path d="M102.5 445.5H108.5" stroke="#262626" stroke-width="1.1" fill="none"/>
<rect x="116.3" y="445.55" width="10" height="87.05" fill="#532462" stroke="#43184F" stroke-width="0.5"/>
<path d="M121.5 445.3V438.5" stroke="#303030" stroke-width="1" fill="none"/>
<path d="M118.5 438.5H124.5" stroke="#262626" stroke-width="1.1" fill="none"/>
<rect x="132.25" y="429.75" width="10" height="102.85" fill="#E08D1B" stroke="#CF7F12" stroke-width="0.5"/>
<path d="M137.5 429.5V421.5" stroke="#303030" stroke-width="1" fill="none"/>
<path d="M134.5 421.5H140.5" stroke="#262626" stroke-width="1.1" fill="none"/>
<path d="M62.6 416V533.2" stroke="#1a1a1a" stroke-width="1.4" fill="none"/>
<path d="M59.8 532.6H148" stroke="#1a1a1a" stroke-width="1.3" fill="none"/>
<path d="M73.45 532.6V535.4" stroke="#1a1a1a" stroke-width="1" fill="none"/>
<path d="M89.4 532.6V535.4" stroke="#1a1a1a" stroke-width="1" fill="none"/>
<path d="M105.35 532.6V535.4" stroke="#1a1a1a" stroke-width="1" fill="none"/>
<path d="M121.3 532.6V535.4" stroke="#1a1a1a" stroke-width="1" fill="none"/>
<path d="M137.25 532.6V535.4" stroke="#1a1a1a" stroke-width="1" fill="none"/>
<path d="M59.4 532.6H62.6" stroke="#1a1a1a" stroke-width="1" fill="none"/>
<text transform="translate(56.6 534.75) scale(1 1.080)" font-size="6.5" text-anchor="end">0</text>
<path d="M59.4 504.15H62.6" stroke="#1a1a1a" stroke-width="1" fill="none"/>
<text transform="translate(56.6 506.3) scale(1 1.080)" font-size="6.5" text-anchor="end">250</text>
<path d="M59.4 475.7H62.6" stroke="#1a1a1a" stroke-width="1" fill="none"/>
<text transform="translate(56.6 477.85) scale(1 1.080)" font-size="6.5" text-anchor="end">500</text>
<path d="M59.4 447.25H62.6" stroke="#1a1a1a" stroke-width="1" fill="none"/>
<text transform="translate(56.6 449.4) scale(1 1.080)" font-size="6.5" text-anchor="end">750</text>
<path d="M59.4 418.8H62.6" stroke="#1a1a1a" stroke-width="1" fill="none"/>
<text transform="translate(56.6 420.95) scale(1 1.080)" font-size="6.5" text-anchor="end">1000</text>
<text transform="translate(76.25 542.6) rotate(-45)" font-size="6.2" text-anchor="end">Medium</text>
<text transform="translate(92.2 542.6) rotate(-45)" font-size="6.2" text-anchor="end">LPS</text>
<text transform="translate(108.15 542.6) rotate(-45)" font-size="6.2" text-anchor="end">TSLP</text>
<text transform="translate(124.1 542.6) rotate(-45)" font-size="6.2" text-anchor="end">TSLP LEN</text>
<text transform="translate(140.05 542.6) rotate(-45)" font-size="6.2" text-anchor="end">TSLP POM</text>
<path d="M73.5 520.5V518.5H88.5" stroke="#333333" stroke-width="1.1" fill="none"/>
<path d="M88.5 518.5V523.7" stroke="#333333" stroke-width="1.1" fill="none"/>
<rect x="81.05" y="514.9" width="1.3" height="1.6" fill="#4a4a4a"/>
<path d="M73.5 479.2V438.5H104.5" stroke="#333333" stroke-width="1.1" fill="none"/>
<path d="M104.5 438.5V441.1" stroke="#333333" stroke-width="1.1" fill="none"/>
<rect x="88.05" y="434.9" width="1.3" height="1.6" fill="#4a4a4a"/>
<rect x="90.05" y="434.9" width="1.3" height="1.6" fill="#4a4a4a"/>
<path d="M105.5 436.3V430.5H120.5" stroke="#333333" stroke-width="1.1" fill="none"/>
<path d="M120.5 430.5V433.1" stroke="#333333" stroke-width="1.1" fill="none"/>
<rect x="113.05" y="426.9" width="1.3" height="1.6" fill="#4a4a4a"/>
<path d="M105.5 424.6V415.5H136.5" stroke="#333333" stroke-width="1.1" fill="none"/>
<path d="M136.5 415.5V419.4" stroke="#333333" stroke-width="1.1" fill="none"/>
<rect x="120.05" y="411.9" width="1.3" height="1.6" fill="#4a4a4a"/>
<rect x="122.05" y="411.9" width="1.3" height="1.6" fill="#4a4a4a"/>
<text transform="translate(52.8 411.4) scale(1 1.200)" font-size="5.9" text-anchor="middle">(pg/ml)</text>
</g>
<g>
<rect x="190.25" y="522.55" width="10" height="10.05" fill="#A5002F" stroke="#8E0026" stroke-width="0.5"/>
<path d="M195.5 522.3V520.5" stroke="#303030" stroke-width="1" fill="none"/>
<path d="M192.5 520.5H198.5" stroke="#262626" stroke-width="1.1" fill="none"/>
<rect x="206.2" y="527.85" width="10" height="4.75" fill="#2C4C8A" stroke="#223E76" stroke-width="0.5"/>
<path d="M211.5 527.6V526.5" stroke="#303030" stroke-width="1" fill="none"/>
<path d="M208.5 526.5H214.5" stroke="#262626" stroke-width="1.1" fill="none"/>
<rect x="222.15" y="469.05" width="10" height="63.55" fill="#6AAA40" stroke="#5E9A37" stroke-width="0.5"/>
<path d="M227.5 468.8V463.5" stroke="#303030" stroke-width="1" fill="none"/>
<path d="M224.5 463.5H230.5" stroke="#262626" stroke-width="1.1" fill="none"/>
<rect x="238.1" y="447.45" width="10" height="85.15" fill="#532462" stroke="#43184F" stroke-width="0.5"/>
<path d="M243.5 447.2V439.5" stroke="#303030" stroke-width="1" fill="none"/>
<path d="M240.5 439.5H246.5" stroke="#262626" stroke-width="1.1" fill="none"/>
<rect x="254.05" y="434.95" width="10" height="97.65" fill="#E08D1B" stroke="#CF7F12" stroke-width="0.5"/>
<path d="M259.5 434.7V423.5" stroke="#303030" stroke-width="1" fill="none"/>
<path d="M256.5 423.5H262.5" stroke="#262626" stroke-width="1.1" fill="none"/>
<path d="M184.4 416V533.2" stroke="#1a1a1a" stroke-width="1.4" fill="none"/>
<path d="M181.6 532.6H269.8" stroke="#1a1a1a" stroke-width="1.3" fill="none"/>
<path d="M195.25 532.6V535.4" stroke="#1a1a1a" stroke-width="1" fill="none"/>
<path d="M211.2 532.6V535.4" stroke="#1a1a1a" stroke-width="1" fill="none"/>
<path d="M227.15 532.6V535.4" stroke="#1a1a1a" stroke-width="1" fill="none"/>
<path d="M243.1 532.6V535.4" stroke="#1a1a1a" stroke-width="1" fill="none"/>
<path d="M259.05 532.6V535.4" stroke="#1a1a1a" stroke-width="1" fill="none"/>
<path d="M181.2 532.6H184.4" stroke="#1a1a1a" stroke-width="1" fill="none"/>
<text transform="translate(178.4 534.75) scale(1 1.080)" font-size="6.5" text-anchor="end">0</text>
<path d="M182.8 513.63H184.4" stroke="#1a1a1a" stroke-width="1" fill="none"/>
<path d="M181.2 494.67H184.4" stroke="#1a1a1a" stroke-width="1" fill="none"/>
<text transform="translate(178.4 496.82) scale(1 1.080)" font-size="6.5" text-anchor="end">1000</text>
<path d="M182.8 475.7H184.4" stroke="#1a1a1a" stroke-width="1" fill="none"/>
<path d="M181.2 456.73H184.4" stroke="#1a1a1a" stroke-width="1" fill="none"/>
<text transform="translate(178.4 458.88) scale(1 1.080)" font-size="6.5" text-anchor="end">2000</text>
<path d="M182.8 437.77H184.4" stroke="#1a1a1a" stroke-width="1" fill="none"/>
<path d="M181.2 418.8H184.4" stroke="#1a1a1a" stroke-width="1" fill="none"/>
<text transform="translate(178.4 420.95) scale(1 1.080)" font-size="6.5" text-anchor="end">3000</text>
<text transform="translate(198.05 542.6) rotate(-45)" font-size="6.2" text-anchor="end">Medium</text>
<text transform="translate(214 542.6) rotate(-45)" font-size="6.2" text-anchor="end">LPS</text>
<text transform="translate(229.95 542.6) rotate(-45)" font-size="6.2" text-anchor="end">TSLP</text>
<text transform="translate(245.9 542.6) rotate(-45)" font-size="6.2" text-anchor="end">TSLP LEN</text>
<text transform="translate(261.85 542.6) rotate(-45)" font-size="6.2" text-anchor="end">TSLP POM</text>
<path d="M195.5 516.1V514.5H210.5" stroke="#333333" stroke-width="1.1" fill="none"/>
<path d="M210.5 514.5V520.7" stroke="#333333" stroke-width="1.1" fill="none"/>
<rect x="203.05" y="510.9" width="1.3" height="1.6" fill="#4a4a4a"/>
<path d="M195.5 490.7V455.5H226.5" stroke="#333333" stroke-width="1.1" fill="none"/>
<path d="M226.5 455.5V459.6" stroke="#333333" stroke-width="1.1" fill="none"/>
<rect x="210.05" y="451.9" width="1.3" height="1.6" fill="#4a4a4a"/>
<rect x="212.05" y="451.9" width="1.3" height="1.6" fill="#4a4a4a"/>
<path d="M227.5 443.7V432.5H242.5" stroke="#333333" stroke-width="1.1" fill="none"/>
<path d="M242.5 432.5V435.6" stroke="#333333" stroke-width="1.1" fill="none"/>
<rect x="235.05" y="428.9" width="1.3" height="1.6" fill="#4a4a4a"/>
<path d="M227.5 428V418.5H258.5" stroke="#333333" stroke-width="1.1" fill="none"/>
<path d="M258.5 418.5V420.8" stroke="#333333" stroke-width="1.1" fill="none"/>
<rect x="243.05" y="414.9" width="1.3" height="1.6" fill="#4a4a4a"/>
<text transform="translate(174.6 411.4) scale(1 1.200)" font-size="5.9" text-anchor="middle">(pg/ml)</text>
</g>
<g>
<rect x="311.75" y="509" width="10" height="23.6" fill="#A5002F" stroke="#8E0026" stroke-width="0.5"/>
<path d="M316.5 508.75V505.5" stroke="#303030" stroke-width="1" fill="none"/>
<path d="M313.5 505.5H319.5" stroke="#262626" stroke-width="1.1" fill="none"/>
<rect x="327.7" y="518.25" width="10" height="14.35" fill="#2C4C8A" stroke="#223E76" stroke-width="0.5"/>
<path d="M332.5 518V515.5" stroke="#303030" stroke-width="1" fill="none"/>
<path d="M329.5 515.5H335.5" stroke="#262626" stroke-width="1.1" fill="none"/>
<rect x="343.65" y="462.75" width="10" height="69.85" fill="#6AAA40" stroke="#5E9A37" stroke-width="0.5"/>
<path d="M348.5 462.5V450.5" stroke="#303030" stroke-width="1" fill="none"/>
<path d="M345.5 450.5H351.5" stroke="#262626" stroke-width="1.1" fill="none"/>
<rect x="359.6" y="444" width="10" height="88.6" fill="#532462" stroke="#43184F" stroke-width="0.5"/>
<path d="M364.5 443.75V434.5" stroke="#303030" stroke-width="1" fill="none"/>
<path d="M361.5 434.5H367.5" stroke="#262626" stroke-width="1.1" fill="none"/>
<rect x="375.55" y="435.75" width="10" height="96.85" fill="#E08D1B" stroke="#CF7F12" stroke-width="0.5"/>
<path d="M380.5 435.5V425.5" stroke="#303030" stroke-width="1" fill="none"/>
<path d="M377.5 425.5H383.5" stroke="#262626" stroke-width="1.1" fill="none"/>
<path d="M305.9 416V533.2" stroke="#1a1a1a" stroke-width="1.4" fill="none"/>
<path d="M303.1 532.6H391.3" stroke="#1a1a1a" stroke-width="1.3" fill="none"/>
<path d="M316.75 532.6V535.4" stroke="#1a1a1a" stroke-width="1" fill="none"/>
<path d="M332.7 532.6V535.4" stroke="#1a1a1a" stroke-width="1" fill="none"/>
<path d="M348.65 532.6V535.4" stroke="#1a1a1a" stroke-width="1" fill="none"/>
<path d="M364.6 532.6V535.4" stroke="#1a1a1a" stroke-width="1" fill="none"/>
<path d="M380.55 532.6V535.4" stroke="#1a1a1a" stroke-width="1" fill="none"/>
<path d="M302.7 532.6H305.9" stroke="#1a1a1a" stroke-width="1" fill="none"/>
<text transform="translate(299.9 534.75) scale(1 1.080)" font-size="6.5" text-anchor="end">0</text>
<path d="M304.3 513.63H305.9" stroke="#1a1a1a" stroke-width="1" fill="none"/>
<path d="M302.7 494.67H305.9" stroke="#1a1a1a" stroke-width="1" fill="none"/>
<text transform="translate(299.9 496.82) scale(1 1.080)" font-size="6.5" text-anchor="end">1000</text>
<path d="M304.3 475.7H305.9" stroke="#1a1a1a" stroke-width="1" fill="none"/>
<path d="M302.7 456.73H305.9" stroke="#1a1a1a" stroke-width="1" fill="none"/>
<text transform="translate(299.9 458.88) scale(1 1.080)" font-size="6.5" text-anchor="end">2000</text>
<path d="M304.3 437.77H305.9" stroke="#1a1a1a" stroke-width="1" fill="none"/>
<path d="M302.7 418.8H305.9" stroke="#1a1a1a" stroke-width="1" fill="none"/>
<text transform="translate(299.9 420.95) scale(1 1.080)" font-size="6.5" text-anchor="end">3000</text>
<text transform="translate(319.55 542.6) rotate(-45)" font-size="6.2" text-anchor="end">Medium</text>
<text transform="translate(335.5 542.6) rotate(-45)" font-size="6.2" text-anchor="end">LPS</text>
<text transform="translate(351.45 542.6) rotate(-45)" font-size="6.2" text-anchor="end">TSLP</text>
<text transform="translate(367.4 542.6) rotate(-45)" font-size="6.2" text-anchor="end">TSLP LEN</text>
<text transform="translate(383.35 542.6) rotate(-45)" font-size="6.2" text-anchor="end">TSLP POM</text>
<path d="M316.5 498.75V497.5H332.5" stroke="#333333" stroke-width="1.1" fill="none"/>
<path d="M332.5 497.5V510" stroke="#333333" stroke-width="1.1" fill="none"/>
<rect x="324.55" y="493.9" width="1.3" height="1.6" fill="#4a4a4a"/>
<path d="M316.5 481.25V445.5H348.5" stroke="#333333" stroke-width="1.1" fill="none"/>
<path d="M348.5 445.5V448.75" stroke="#333333" stroke-width="1.1" fill="none"/>
<rect x="331.55" y="441.9" width="1.3" height="1.6" fill="#4a4a4a"/>
<rect x="333.55" y="441.9" width="1.3" height="1.6" fill="#4a4a4a"/>
<path d="M348.5 438.75V429.5H364.5" stroke="#333333" stroke-width="1.1" fill="none"/>
<path d="M364.5 429.5V432.5" stroke="#333333" stroke-width="1.1" fill="none"/>
<rect x="356.55" y="425.9" width="1.3" height="1.6" fill="#4a4a4a"/>
<path d="M364.5 423.75V420.5H380.5" stroke="#333333" stroke-width="1.1" fill="none"/>
<path d="M380.5 420.5V423" stroke="#333333" stroke-width="1.1" fill="none"/>
<rect x="372.55" y="416.9" width="1.3" height="1.6" fill="#4a4a4a"/>
<path d="M348.5 422.5V413.5H380.5" stroke="#333333" stroke-width="1.1" fill="none"/>
<path d="M380.5 413.5V415" stroke="#333333" stroke-width="1.1" fill="none"/>
<rect x="363.55" y="409.9" width="1.3" height="1.6" fill="#4a4a4a"/>
<rect x="365.55" y="409.9" width="1.3" height="1.6" fill="#4a4a4a"/>
<text transform="translate(296.1 411.4) scale(1 1.200)" font-size="5.9" text-anchor="middle">(pg/ml)</text>
</g>
<g>
<rect x="433.35" y="524" width="10" height="8.6" fill="#A5002F" stroke="#8E0026" stroke-width="0.5"/>
<path d="M438.5 523.75V521.5" stroke="#303030" stroke-width="1" fill="none"/>
<path d="M435.5 521.5H441.5" stroke="#262626" stroke-width="1.1" fill="none"/>
<rect x="449.3" y="454.5" width="10" height="78.1" fill="#2C4C8A" stroke="#223E76" stroke-width="0.5"/>
<path d="M454.5 454.25V445.5" stroke="#303030" stroke-width="1" fill="none"/>
<path d="M451.5 445.5H457.5" stroke="#262626" stroke-width="1.1" fill="none"/>
<rect x="465.25" y="525.25" width="10" height="7.35" fill="#6AAA40" stroke="#5E9A37" stroke-width="0.5"/>
<path d="M470.5 525V523.5" stroke="#303030" stroke-width="1" fill="none"/>
<path d="M467.5 523.5H473.5" stroke="#262626" stroke-width="1.1" fill="none"/>
<rect x="481.2" y="525.25" width="10" height="7.35" fill="#532462" stroke="#43184F" stroke-width="0.5"/>
<path d="M486.5 525V523.5" stroke="#303030" stroke-width="1" fill="none"/>
<path d="M483.5 523.5H489.5" stroke="#262626" stroke-width="1.1" fill="none"/>
<rect x="497.15" y="525.75" width="10" height="6.85" fill="#E08D1B" stroke="#CF7F12" stroke-width="0.5"/>
<path d="M502.5 525.5V524.5" stroke="#303030" stroke-width="1" fill="none"/>
<path d="M499.5 524.5H505.5" stroke="#262626" stroke-width="1.1" fill="none"/>
<path d="M427.5 416V533.2" stroke="#1a1a1a" stroke-width="1.4" fill="none"/>
<path d="M424.7 532.6H512.9" stroke="#1a1a1a" stroke-width="1.3" fill="none"/>
<path d="M438.35 532.6V535.4" stroke="#1a1a1a" stroke-width="1" fill="none"/>
<path d="M454.3 532.6V535.4" stroke="#1a1a1a" stroke-width="1" fill="none"/>
<path d="M470.25 532.6V535.4" stroke="#1a1a1a" stroke-width="1" fill="none"/>
<path d="M486.2 532.6V535.4" stroke="#1a1a1a" stroke-width="1" fill="none"/>
<path d="M502.15 532.6V535.4" stroke="#1a1a1a" stroke-width="1" fill="none"/>
<path d="M424.3 532.6H427.5" stroke="#1a1a1a" stroke-width="1" fill="none"/>
<text transform="translate(421.5 534.75) scale(1 1.080)" font-size="6.5" text-anchor="end">0</text>
<path d="M425.9 521.22H427.5" stroke="#1a1a1a" stroke-width="1" fill="none"/>
<path d="M424.3 509.84H427.5" stroke="#1a1a1a" stroke-width="1" fill="none"/>
<text transform="translate(421.5 511.99) scale(1 1.080)" font-size="6.5" text-anchor="end">500</text>
<path d="M425.9 498.46H427.5" stroke="#1a1a1a" stroke-width="1" fill="none"/>
<path d="M424.3 487.08H427.5" stroke="#1a1a1a" stroke-width="1" fill="none"/>
<text transform="translate(421.5 489.23) scale(1 1.080)" font-size="6.5" text-anchor="end">1000</text>
<path d="M425.9 475.7H427.5" stroke="#1a1a1a" stroke-width="1" fill="none"/>
<path d="M424.3 464.32H427.5" stroke="#1a1a1a" stroke-width="1" fill="none"/>
<text transform="translate(421.5 466.47) scale(1 1.080)" font-size="6.5" text-anchor="end">1500</text>
<path d="M425.9 452.94H427.5" stroke="#1a1a1a" stroke-width="1" fill="none"/>
<path d="M424.3 441.56H427.5" stroke="#1a1a1a" stroke-width="1" fill="none"/>
<text transform="translate(421.5 443.71) scale(1 1.080)" font-size="6.5" text-anchor="end">2000</text>
<path d="M425.9 430.18H427.5" stroke="#1a1a1a" stroke-width="1" fill="none"/>
<path d="M424.3 418.8H427.5" stroke="#1a1a1a" stroke-width="1" fill="none"/>
<text transform="translate(421.5 420.95) scale(1 1.080)" font-size="6.5" text-anchor="end">2500</text>
<text transform="translate(441.15 542.6) rotate(-45)" font-size="6.2" text-anchor="end">Medium</text>
<text transform="translate(457.1 542.6) rotate(-45)" font-size="6.2" text-anchor="end">LPS</text>
<text transform="translate(473.05 542.6) rotate(-45)" font-size="6.2" text-anchor="end">TSLP</text>
<text transform="translate(489 542.6) rotate(-45)" font-size="6.2" text-anchor="end">TSLP LEN</text>
<text transform="translate(504.95 542.6) rotate(-45)" font-size="6.2" text-anchor="end">TSLP POM</text>
<path d="M438.5 498.75V436.5H453.5" stroke="#333333" stroke-width="1.1" fill="none"/>
<path d="M453.5 436.5V438" stroke="#333333" stroke-width="1.1" fill="none"/>
<rect x="445.05" y="432.9" width="1.3" height="1.6" fill="#4a4a4a"/>
<rect x="447.05" y="432.9" width="1.3" height="1.6" fill="#4a4a4a"/>
<path d="M438.5 425.1V422.5H469.5" stroke="#333333" stroke-width="1.1" fill="none"/>
<path d="M469.5 422.5V451.3" stroke="#333333" stroke-width="1.1" fill="none"/>
<text transform="translate(454 420.9)" font-size="5.5" text-anchor="middle">p=0.707</text>
<path d="M470.5 516.25V511.5H485.5" stroke="#333333" stroke-width="1.1" fill="none"/>
<path d="M485.5 511.5V516.25" stroke="#333333" stroke-width="1.1" fill="none"/>
<text transform="translate(478 509.9)" font-size="5.5" text-anchor="middle">p=0.813</text>
<path d="M470.5 501.25V497.5H501.5" stroke="#333333" stroke-width="1.1" fill="none"/>
<path d="M501.5 497.5V517" stroke="#333333" stroke-width="1.1" fill="none"/>
<text transform="translate(486 495.9)" font-size="5.5" text-anchor="middle">p=0.455</text>
<text transform="translate(417.7 411.4) scale(1 1.200)" font-size="5.9" text-anchor="middle">(pg/ml)</text>
</g>
<text transform="translate(6.6 17.1) scale(1.08 1.000)" font-size="11.2" text-anchor="start" font-weight="bold" style="stroke-width:0.25px;fill:#000;stroke:#000">A</text>
<text transform="translate(7 214.9) scale(1.04 1.000)" font-size="11.2" text-anchor="start" font-weight="bold" style="stroke-width:0.25px;fill:#000;stroke:#000">B</text>
<text transform="translate(6.8 402.8) scale(1.04 1.000)" font-size="11.2" text-anchor="start" font-weight="bold" style="stroke-width:0.25px;fill:#000;stroke:#000">C</text>
<text transform="translate(23.2 55.9) scale(1 1.060)" font-size="8.3" text-anchor="middle">Total</text>
<text transform="translate(23 66) scale(1 1.060)" font-size="8.3" text-anchor="middle">CD4T</text>
<text transform="translate(23.2 240.2) scale(1 1.060)" font-size="8.3" text-anchor="middle">Naïve</text>
<text transform="translate(22.8 250.2) scale(1 1.060)" font-size="8.3" text-anchor="middle">CD4 T</text>
<text transform="translate(7 432.1) scale(1 1.06)" font-size="8.3">CRTH2<tspan font-size="6.6" dy="-2.7">+</tspan></text>
<text transform="translate(22.8 442.7) scale(1 1.060)" font-size="8.3" text-anchor="middle">CD4 T</text>
</svg>
<div class="frame"></div>
</body></html>
